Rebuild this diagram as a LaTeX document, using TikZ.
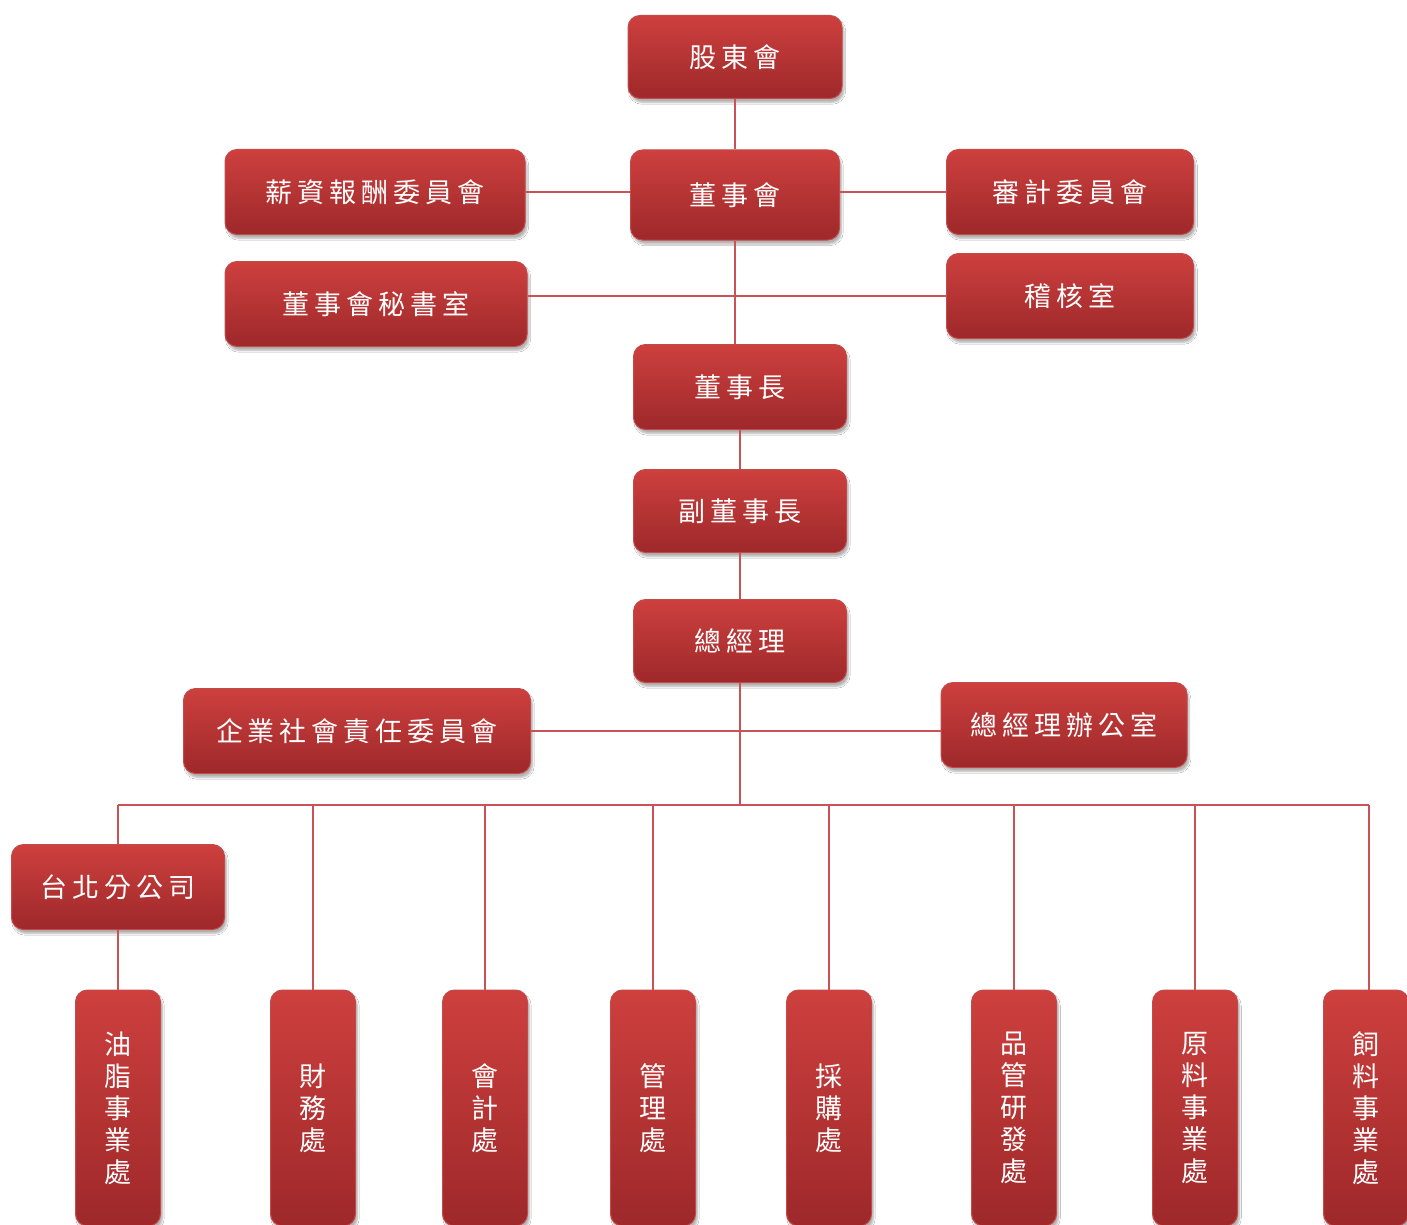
\documentclass[tikz,border=0pt]{standalone}
\usepackage{fontspec}
\newfontfamily\cjk[LetterSpace=18]{Noto Sans CJK TC}
\newfontfamily\cjkv{Noto Sans CJK TC}
\usetikzlibrary{shadows.blur}
\definecolor{boxtop}{RGB}{205,64,62}
\definecolor{boxbot}{RGB}{158,40,42}
\definecolor{boxrim}{RGB}{196,74,74}
\definecolor{linkred}{RGB}{200,82,86}
\tikzset{
  unit/.style={rounded corners=12pt, top color=boxtop, bottom color=boxbot,
    draw=boxrim, line width=1pt, text=white, inner sep=0pt,
    blur shadow={shadow xshift=2pt, shadow yshift=-4pt, shadow opacity=30, shadow blur steps=6},
    font=\cjk\fontsize{27}{32}\selectfont},
  dept/.style={unit, minimum width=85pt, minimum height=236pt, align=center,
    font=\cjkv\fontsize{27}{32}\selectfont},
  link/.style={draw=linkred, line width=2pt}
}
\begin{document}
\begin{tikzpicture}[x=1pt,y=-1pt]
\clip (0,0) rectangle (1407,1225);
\fill[white] (0,0) rectangle (1407,1225);
% top of the chart
\node[unit, minimum width=214pt, minimum height=83pt] (gudong) at (735,57) {股東會};
\node[unit, minimum width=209pt, minimum height=90pt] (dongshi) at (735,195) {董事會};
\node[unit, minimum width=300pt, minimum height=85pt] (xinzi) at (375,192) {薪資報酬委員會};
\node[unit, minimum width=247pt, minimum height=85pt] (shenji) at (1070,192) {審計委員會};
\node[unit, minimum width=302pt, minimum height=85pt] (mishu) at (376,304) {董事會秘書室};
\node[unit, minimum width=247pt, minimum height=85pt] (jihe) at (1070,296) {稽核室};
\node[unit, minimum width=213pt, minimum height=85pt] (dsz) at (740,387) {董事長};
\node[unit, minimum width=213pt, minimum height=83pt] (fdsz) at (740,511) {副董事長};
\node[unit, minimum width=213pt, minimum height=83pt] (zjl) at (740,641) {總經理};
\node[unit, minimum width=347pt, minimum height=85pt] (csr) at (357,731) {企業社會責任委員會};
\node[unit, minimum width=246pt, minimum height=85pt] (zjlb) at (1064,725) {總經理辦公室};
\node[unit, minimum width=213pt, minimum height=85pt] (taibei) at (118,887) {台北分公司};
% departments
\foreach \name/\xx/\txt in {youzhi/118/油\\脂\\事\\業\\處, caiwu/313/財\\務\\處,
  kuaiji/485/會\\計\\處, guanli/653/管\\理\\處, caigou/829/採\\購\\處,
  pinguan/1014/品\\管\\研\\發\\處, yuanliao/1195/原\\料\\事\\業\\處,
  siliao/1366/飼\\料\\事\\業\\處}
  \node[dept] (\name) at (\xx,1108) {\txt};
\coordinate (busL) at (118,805);
\coordinate (busR) at (1369,805);
% connectors
\begin{scope}[on background layer/.try]
\path[link] (gudong.south) -- (dongshi.north);
\path[link] (xinzi.east) -- (xinzi.east -| dongshi.west);
\path[link] (shenji.west) -- (shenji.west -| dongshi.east);
\path[link] (dongshi.south) -- (dongshi.south |- dsz.north);
\path[link] (mishu.east |- jihe.west) -- (jihe.west);
\path[link] (dsz.south) -- (fdsz.north);
\path[link] (fdsz.south) -- (zjl.north);
\path[link] (zjl.south) -- (zjl.south |- busL);
\path[link] (csr.east) -- (csr.east -| zjlb.west);
\path[link] (busL) -- (busR);
\path[link] (busL) -- (taibei.north);
\path[link] (taibei.south) -- (youzhi.north);
\foreach \name in {caiwu, kuaiji, guanli, caigou, pinguan, yuanliao}
  \path[link] (\name.north |- busL) -- (\name.north);
\path[link] (busR) -- (busR |- siliao.north);
\end{scope}
\end{tikzpicture}
\end{document}
